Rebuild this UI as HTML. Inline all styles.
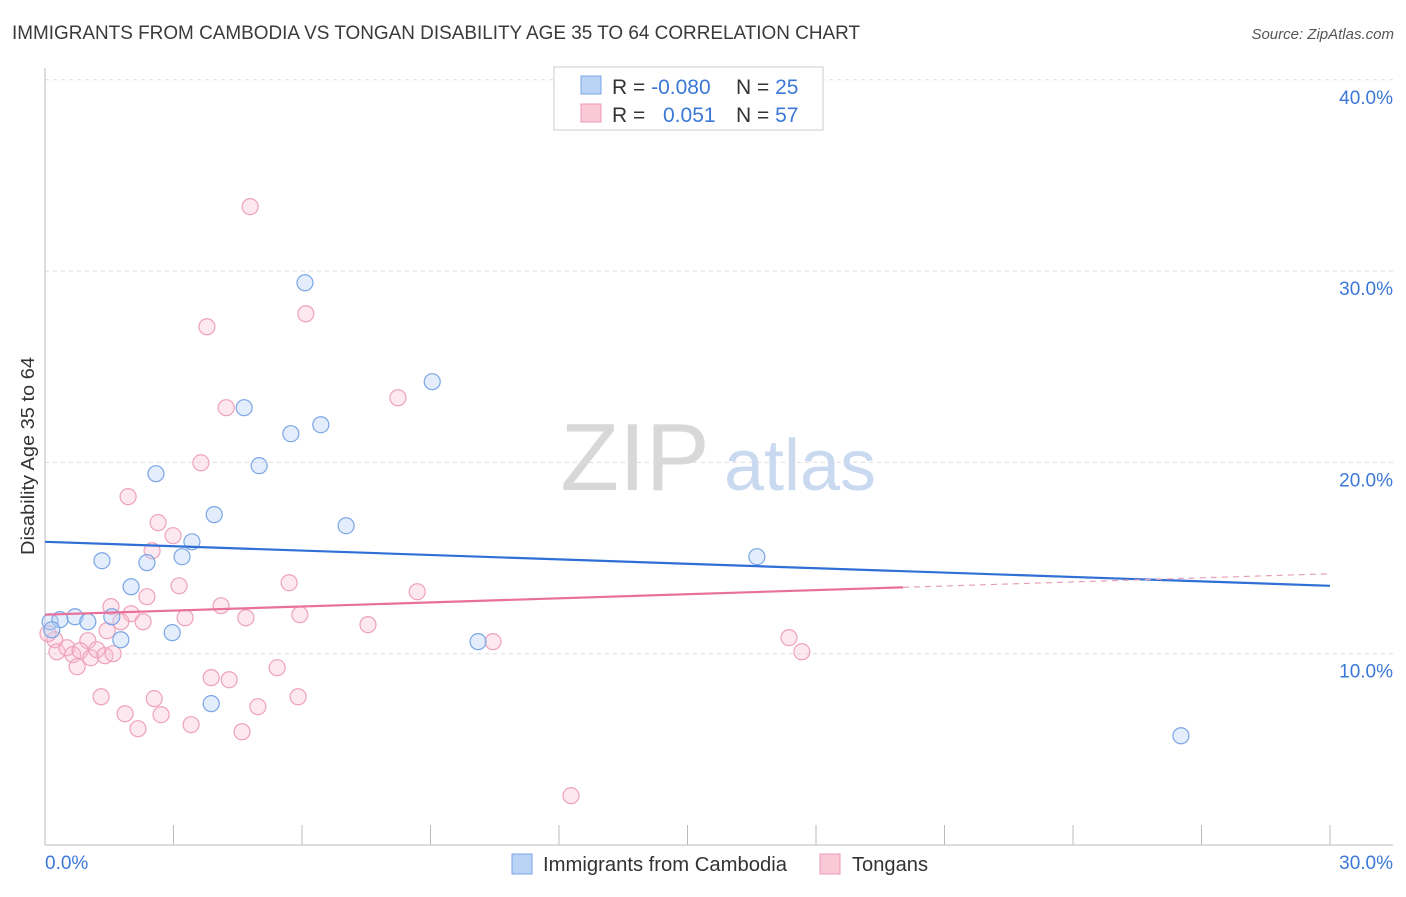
<!DOCTYPE html>
<html><head><meta charset="utf-8"><style>
body{margin:0;background:#fff;font-family:"Liberation Sans",sans-serif;}
svg text{font-family:"Liberation Sans",sans-serif;}
</style></head><body>
<svg id="chart" width="1406" height="892" viewBox="0 0 1406 892" xmlns="http://www.w3.org/2000/svg">
<text x="12" y="39" font-size="19" fill="#3a3a3a" textLength="848" lengthAdjust="spacingAndGlyphs">IMMIGRANTS FROM CAMBODIA VS TONGAN DISABILITY AGE 35 TO 64 CORRELATION CHART</text>
<text x="1394" y="39" font-size="15" fill="#555" text-anchor="end" font-style="italic">Source: ZipAtlas.com</text>
<g id="grid"></g>
<g>
<text x="635" y="490" font-size="96" fill="#d8d8d8" font-family="Liberation Serif" text-anchor="middle">ZIP</text>
<text x="800" y="490" font-size="72" fill="#c9daf0" text-anchor="middle">atlas</text>
</g>
<line x1="45" y1="68" x2="45" y2="845" stroke="#bbb"/>
<line x1="45" y1="845" x2="1393" y2="845" stroke="#bbb"/>
<g id="xticks"></g>
<g id="ylabels"></g>
<text x="45" y="869" font-size="19" fill="#3b78d8">0.0%</text>
<text x="1393" y="869" font-size="19" fill="#3b78d8" text-anchor="end">30.0%</text>
<text transform="translate(34,456) rotate(-90)" font-size="18" fill="#333" text-anchor="middle" textLength="198" lengthAdjust="spacingAndGlyphs">Disability Age 35 to 64</text>
<g id="pinkpts"></g>
<g id="bluepts"></g>
<g id="trends"></g>
<g>
<rect x="554" y="67" width="269" height="63" fill="#fff" stroke="#ccc"/>
<rect x="581" y="76" width="20" height="18" fill="#b9d3f5" stroke="#7aa6e6"/>
<rect x="581" y="104" width="20" height="18" fill="#f9c9d8" stroke="#ee9ab5"/>
<text x="612" y="94" font-size="21" fill="#333">R = <tspan fill="#3b78d8">-0.080</tspan></text>
<text x="736" y="94" font-size="21" fill="#333">N = <tspan fill="#3b78d8">25</tspan></text>
<text x="612" y="122" font-size="21" fill="#333">R = <tspan fill="#3b78d8" x="663">0.051</tspan></text>
<text x="736" y="122" font-size="21" fill="#333">N = <tspan fill="#3b78d8">57</tspan></text>
</g>
<g>
<rect x="512" y="854" width="20" height="20" fill="#b9d3f5" stroke="#7aa6e6"/>
<text x="543" y="871" font-size="20" fill="#333" textLength="244" lengthAdjust="spacingAndGlyphs">Immigrants from Cambodia</text>
<rect x="820" y="854" width="20" height="20" fill="#f9c9d8" stroke="#ee9ab5"/>
<text x="852" y="871" font-size="20" fill="#333" textLength="76" lengthAdjust="spacingAndGlyphs">Tongans</text>
</g>
</svg>
<script>
const yTicks=[10,20,30,40];
const xTickVals=[0,3,6,9,12,15,18,21,24,27,30];
const blueX=[0.12,0.35,0.70,1.00,0.16,1.33,1.56,1.77,2.01,2.38,2.59,2.97,3.20,3.43,3.95,3.88,4.65,5.00,5.74,6.07,6.44,7.03,9.04,10.11,16.62,26.52];
const blueY=[11.67,11.78,11.93,11.67,11.25,14.86,11.93,10.73,13.50,14.76,19.41,11.10,15.07,15.85,17.27,7.39,22.86,19.83,21.50,29.39,21.97,16.69,24.22,10.63,15.07,5.71];
const pinkX=[4.79,3.78,6.09,8.24,4.23,3.64,1.94,2.64,2.99,2.50,3.13,5.70,8.69,2.38,1.54,4.11,2.01,3.27,4.69,5.95,2.29,1.77,7.54,1.45,1.00,10.46,17.37,17.67,0.23,0.28,0.51,0.65,0.82,1.07,1.21,1.40,1.59,0.75,5.42,3.88,4.30,1.31,2.55,5.91,1.87,2.71,3.41,4.97,2.17,4.60,12.28,0.07];
const pinkY=[33.37,27.09,27.77,23.38,22.86,19.98,18.21,16.85,16.17,15.38,13.55,13.71,13.24,12.98,12.46,12.51,12.09,11.88,11.88,12.04,11.67,11.67,11.52,11.20,10.68,10.63,10.84,10.10,10.73,10.10,10.31,9.95,10.16,9.79,10.21,9.90,10.00,9.32,9.27,8.75,8.64,7.75,7.65,7.75,6.86,6.81,6.29,7.23,6.08,5.92,2.58,11.05];
const blueTrend=[15.85,13.55];
const pinkTrend=[12.04,14.18];
const pinkSolidEnd=20.03;

const NS="http://www.w3.org/2000/svg";
const xs=v=>45+v*(1285/30);
const ys=v=>845-v*19.13;
function mk(tag,attrs,parent){const e=document.createElementNS(NS,tag);for(const k in attrs)e.setAttribute(k,attrs[k]);document.getElementById(parent).appendChild(e);return e;}
yTicks.forEach(t=>{
 const l=mk('line',{x1:45,x2:1393,y1:ys(t),y2:ys(t),stroke:'#ddd','stroke-dasharray':'4,4'},'grid');
 
 
 const tx=mk('text',{x:1393,y:ys(t)+24,'font-size':19,fill:'#3b78d8','text-anchor':'end'},'ylabels');
 tx.textContent=t.toFixed(1)+'%';
 
 
});
xTickVals.forEach(t=>{
 const l=mk('line',{x1:xs(t),x2:xs(t),y1:825,y2:845,stroke:'#bbb'},'xticks');
 
 
});
pinkX.forEach((x,i)=>{
 const c=mk('circle',{cx:xs(x),cy:ys(pinkY[i]),r:8,fill:'rgba(248,190,210,0.35)',stroke:'#eea2bb','stroke-width':1.2},'pinkpts');
 
 
});
blueX.forEach((x,i)=>{
 const c=mk('circle',{cx:xs(x),cy:ys(blueY[i]),r:8,fill:'rgba(185,211,245,0.4)',stroke:'#7aa6e6','stroke-width':1.2},'bluepts');
 
 
});
const bl=mk('line',{x1:xs(0),y1:ys(blueTrend[0]),x2:xs(30),y2:ys(blueTrend[1]),stroke:'#2f6fd6','stroke-width':2.2},'trends');


const pm=pinkTrend[0]+(pinkTrend[1]-pinkTrend[0])*pinkSolidEnd/30;
const pl=mk('line',{x1:xs(0),y1:ys(pinkTrend[0]),x2:xs(pinkSolidEnd),y2:ys(pm),stroke:'#e8709a','stroke-width':2.2},'trends');


const pd=mk('line',{x1:xs(pinkSolidEnd),y1:ys(pm),x2:xs(30),y2:ys(pinkTrend[1]),stroke:'#e8a0b8','stroke-width':1.2,'stroke-dasharray':'6,5'},'trends');


</script>
</body></html>
